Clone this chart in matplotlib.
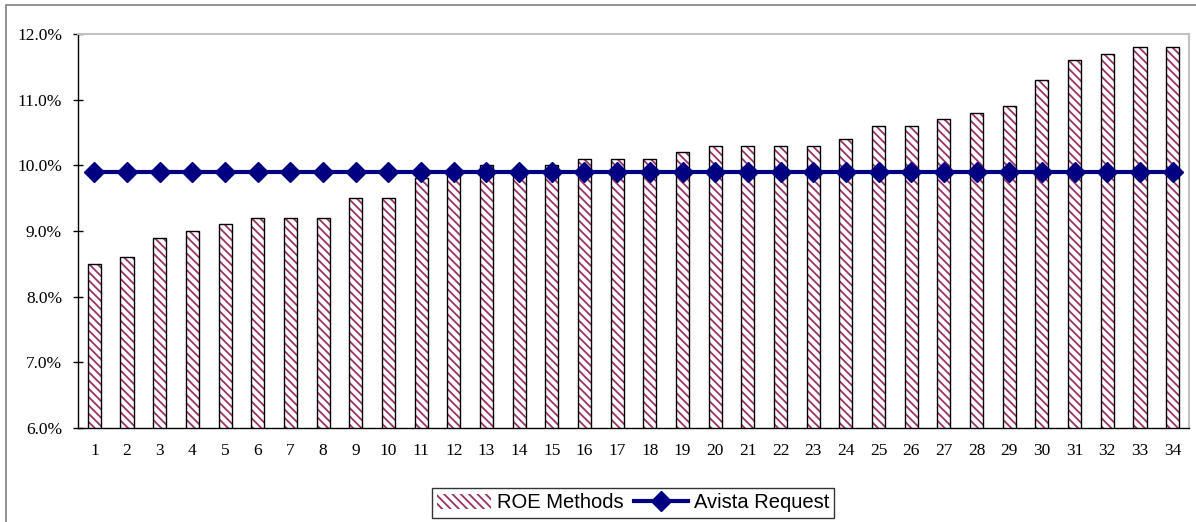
import matplotlib.pyplot as plt
import matplotlib as mpl
from matplotlib.patches import Rectangle
from matplotlib.ticker import FuncFormatter
import numpy as np

# data
methods = list(range(1, 35))
roe = [8.5, 8.6, 8.9, 9.0, 9.1, 9.2, 9.2, 9.2, 9.5, 9.5,
       9.8, 9.9, 10.0, 9.9, 10.0, 10.1, 10.1, 10.1, 10.2, 10.3,
       10.3, 10.3, 10.3, 10.4, 10.6, 10.6, 10.7, 10.8, 10.9, 11.3,
       11.6, 11.7, 11.8, 11.8]
avista = [9.9] * len(methods)

mpl.rcParams['hatch.linewidth'] = 1.3

fig = plt.figure(figsize=(11.96, 5.22), dpi=100)
ax = fig.add_axes([78 / 1196, 1 - 428 / 522, (1189 - 78) / 1196, (428 - 34) / 522])

# outer chart frame
fig.patches.append(Rectangle((6 / 1196, -0.01), 1.0, 1 - 5 / 522 + 0.01,
                             transform=fig.transFigure, fill=False,
                             edgecolor='#808080', linewidth=1.2))

# hatched fill (hatch takes the edge colour), then a black outline on top
bars = ax.bar(methods, roe, width=0.4, color='white', edgecolor='#993366',
              linewidth=0, hatch='\\\\\\\\', label='ROE Methods', zorder=2)
ax.bar(methods, roe, width=0.4, fill=False, edgecolor='black',
       linewidth=1.0, zorder=2.5)
line, = ax.plot(methods, avista, color='#000080', linewidth=3, marker='D',
                markersize=10, label='Avista Request', zorder=3)

ax.set_xlim(0.5, 34.5)
ax.set_ylim(6.0, 12.0)
ax.set_yticks(np.arange(6, 12.01, 1))
ax.yaxis.set_major_formatter(FuncFormatter(lambda v, p: f'{v:.1f}%'))
ax.set_xticks(methods)

serif = ['Liberation Serif', 'DejaVu Serif']
for lab in ax.get_xticklabels() + ax.get_yticklabels():
    lab.set_fontfamily(serif)
    lab.set_fontsize(12.5)

ax.tick_params(axis='y', direction='inout', length=7, width=1, pad=8)
ax.tick_params(axis='x', length=0, pad=11)

for s in ['left', 'bottom']:
    ax.spines[s].set_color('black')
    ax.spines[s].set_linewidth(1.0)
for s in ['top', 'right']:
    ax.spines[s].set_color('#c0c0c0')
    ax.spines[s].set_linewidth(1.5)

leg = fig.legend([bars, line], ['ROE Methods', 'Avista Request'],
                 loc='center', bbox_to_anchor=(633 / 1196, 1 - 503 / 522),
                 ncol=2, frameon=True, fancybox=False, edgecolor='black',
                 prop={'family': ['Liberation Sans', 'DejaVu Sans'], 'size': 14.5},
                 handlelength=2.7, handletextpad=0.3, columnspacing=0.5,
                 borderpad=0.25)
leg.get_frame().set_linewidth(1.0)

fig.savefig('out.png', dpi=100)
